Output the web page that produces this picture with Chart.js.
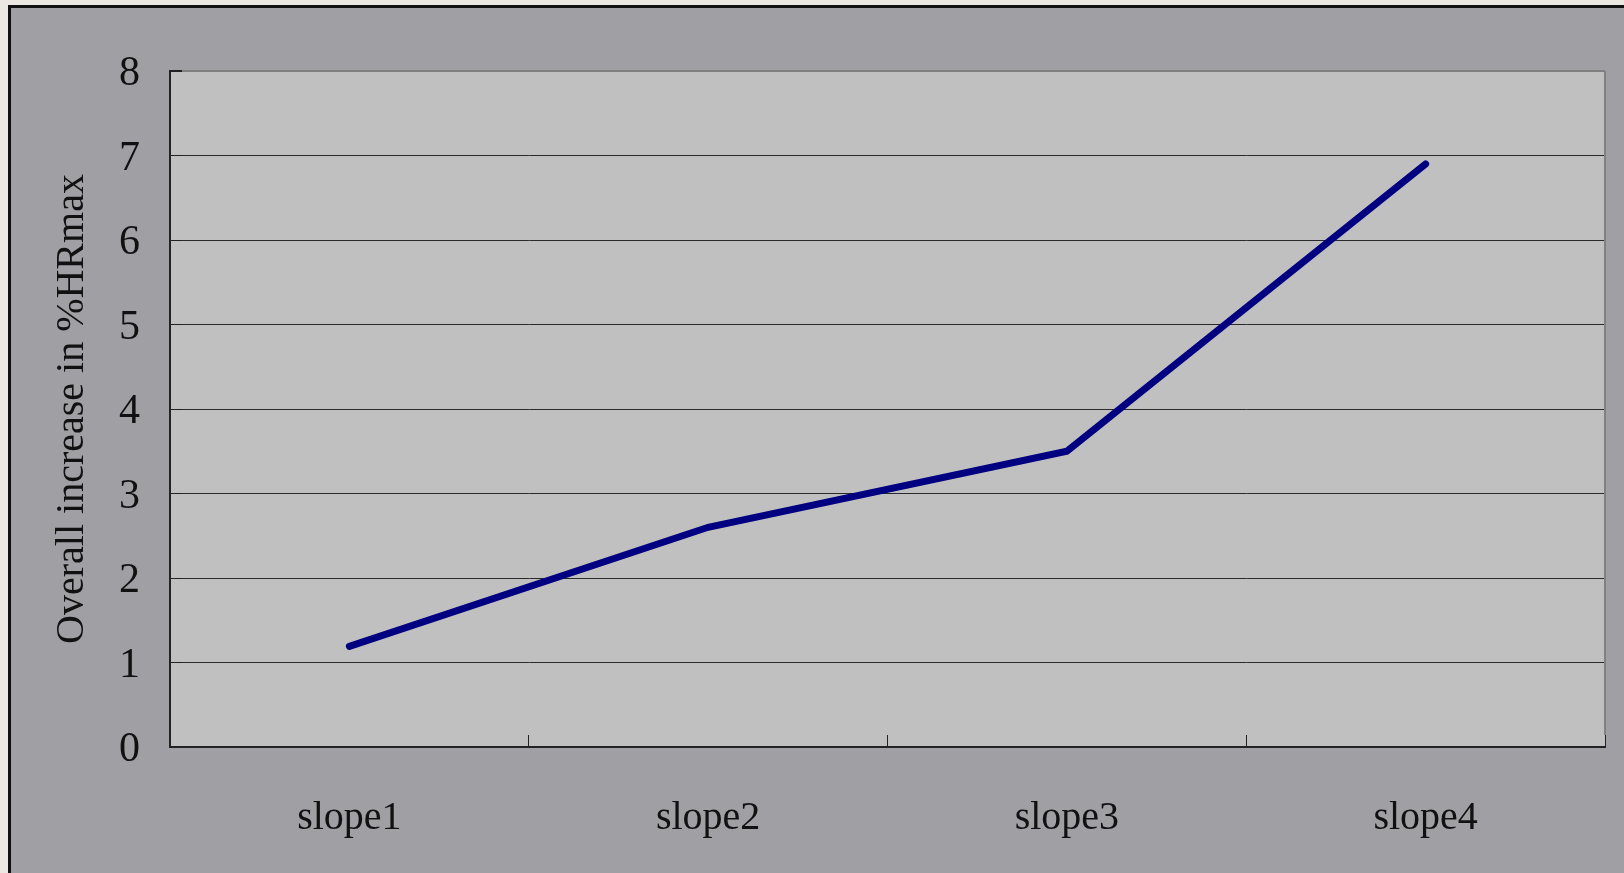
<!DOCTYPE html>
<html>
<head>
<meta charset="utf-8">
<script src="https://cdn.jsdelivr.net/npm/chart.js@4/dist/chart.umd.min.js"></script>
<style>
  html, body { margin: 0; padding: 0; background: #ebe8e4; overflow: hidden; }
  #frame {
    position: absolute; left: 8px; top: 5px;
    width: 1640px; height: 900px;
    border-left: 3px solid #111; border-top: 3px solid #111;
    background: #a09fa4;
  }
  #chart { position: absolute; left: 0; top: 0; }
</style>
</head>
<body>
<div id="frame"><canvas id="chart" width="1613" height="865"></canvas></div>
<script>
// Categories and values of the overall %HRmax increase per slope
const categories = ['slope1', 'slope2', 'slope3', 'slope4'];
const increaseValues = [1.19, 2.6, 3.5, 6.9];
const yTickValues = [0, 1, 2, 3, 4, 5, 6, 7, 8];
const yTitle = 'Overall increase in %HRmax';

const FONT = "'Liberation Serif', 'DejaVu Serif', serif";

// Grey plot background and the grey right edge of the plot frame
const plotFrame = {
  id: 'plotFrame',
  beforeDraw(chart) {
    const { ctx, chartArea: a } = chart;
    ctx.save();
    ctx.fillStyle = '#c0c0c0';
    ctx.fillRect(a.left, a.top, a.right - a.left, a.bottom - a.top);
    ctx.restore();
  },
  afterDatasetsDraw(chart) {
    const { ctx, chartArea: a } = chart;
    ctx.save();
    ctx.strokeStyle = '#808080';
    ctx.lineWidth = 2;
    ctx.beginPath();
    ctx.moveTo(a.right, a.top);
    ctx.lineTo(a.right, a.bottom - 12);
    ctx.stroke();
    ctx.restore();
  }
};

new Chart(document.getElementById('chart'), {
  type: 'line',
  data: {
    labels: categories,
    datasets: [{
      data: increaseValues,
      borderColor: '#000080',
      borderWidth: 7,
      borderCapStyle: 'round',
      borderJoinStyle: 'miter',
      pointRadius: 0,
      tension: 0,
      fill: false
    }]
  },
  options: {
    responsive: false,
    animation: false,
    layout: { padding: { left: 0, top: 63, right: 19, bottom: 0 } },
    plugins: { legend: { display: false }, tooltip: { enabled: false } },
    scales: {
      x: {
        offset: true,
        grid: {
          offset: true,
          drawOnChartArea: false,
          drawTicks: true,
          tickLength: -12,
          color: '#222',
          lineWidth: 1
        },
        border: { color: '#222', width: 2 },
        ticks: {
          color: '#111',
          font: { family: FONT, size: 40 },
          padding: 59,
          maxRotation: 0
        },
        afterFit(scale) {
          scale.height = 126;
          scale.paddingLeft = 0;
          scale.paddingRight = 0;
        }
      },
      y: {
        min: 0,
        max: 8,
        afterBuildTicks(scale) {
          scale.ticks = yTickValues.map(v => ({ value: v }));
        },
        grid: {
          drawTicks: true,
          tickLength: -12,
          color: ctx => (ctx.tick && ctx.tick.value === 8) ? '#808080' : '#2a2a2a',
          tickColor: '#222',
          lineWidth: ctx => (ctx.tick && ctx.tick.value === 8) ? 2 : 1
        },
        border: { color: '#222', width: 2 },
        ticks: {
          color: '#111',
          // an empty leading line nudges each number a few pixels below its gridline
          font: { family: FONT, size: 42, lineHeight: '6px' },
          padding: 42,
          callback: v => ['', String(v)]
        },
        title: {
          display: true,
          text: yTitle,
          color: '#111',
          font: { family: FONT, size: 40, weight: 'normal' },
          padding: { top: 37, bottom: 0 }
        },
        afterFit(scale) {
          scale.width = 159;
          scale.paddingTop = 0;
          scale.paddingBottom = 0;
        }
      }
    }
  },
  plugins: [plotFrame]
});
</script>
</body>
</html>
